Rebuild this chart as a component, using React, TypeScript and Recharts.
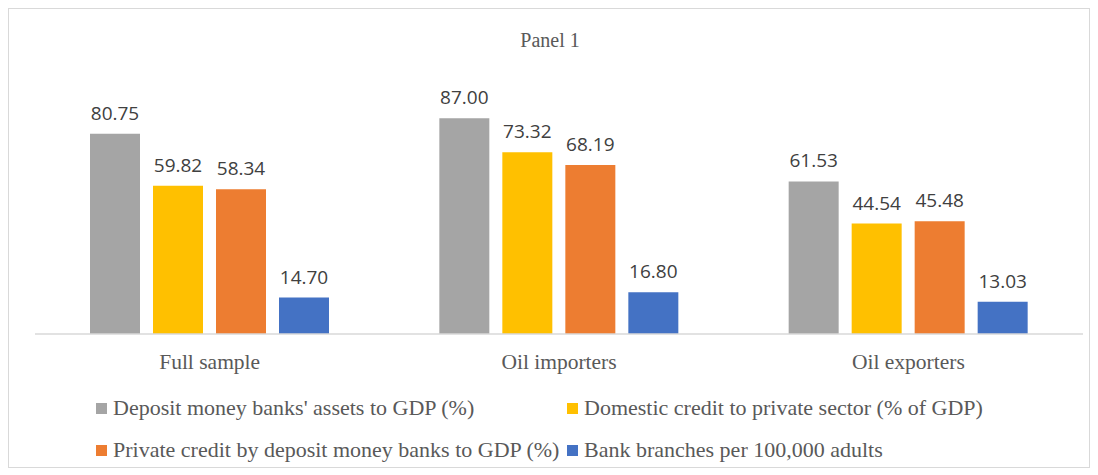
import React from 'react';
import { BarChart, Bar, XAxis, YAxis, LabelList, Legend } from 'recharts';

const categories = ['Full sample', 'Oil importers', 'Oil exporters'];
const depositAssets = [80.75, 87.0, 61.53];
const domesticCredit = [59.82, 73.32, 44.54];
const privateCredit = [58.34, 68.19, 45.48];
const bankBranches = [14.7, 16.8, 13.03];

const seriesNames = [
  "Deposit money banks' assets to GDP (%)",
  'Domestic credit to private sector (% of GDP)',
  'Private credit by deposit money banks to GDP (%)',
  'Bank branches per 100,000 adults',
];
const seriesKeys = ['assets', 'domestic', 'private', 'branches'];
const seriesColors = ['#A5A5A5', '#FFC000', '#ED7D31', '#4472C4'];

const data = categories.map((c, i) => ({
  name: c,
  assets: depositAssets[i],
  domestic: domesticCredit[i],
  private: privateCredit[i],
  branches: bankBranches[i],
}));

const serif = '"Liberation Serif", "Times New Roman", serif';
const sans = '"Open Sans", "Noto Sans", sans-serif';

const LegendContent = () => {
  const item = (idx: number) => (
    <div style={{ display: 'flex', alignItems: 'center', width: 471 }}>
      <span style={{ width: 11, height: 11, background: seriesColors[idx], display: 'inline-block', marginRight: 6 }} />
      <span style={{ fontFamily: serif, fontSize: 22, color: '#595959', whiteSpace: 'nowrap' }}>{seriesNames[idx]}</span>
    </div>
  );
  return (
    <div style={{ paddingLeft: 87 }}>
      <div style={{ display: 'flex', height: 42, alignItems: 'center' }}>
        {item(0)}
        {item(1)}
      </div>
      <div style={{ display: 'flex', height: 42, alignItems: 'center' }}>
        {item(2)}
        {item(3)}
      </div>
    </div>
  );
};

export default function App() {
  return (
    <div style={{ position: 'relative', width: 1080, height: 458, border: '1px solid #D9D9D9', background: '#fff' }}>
      <div style={{ position: 'absolute', top: 20, left: 0, width: 1082, textAlign: 'center', fontFamily: serif, fontSize: 20, color: '#595959' }}>
        Panel 1
      </div>
      <BarChart
        width={1080}
        height={458}
        data={data}
        margin={{ top: 77, right: 6, bottom: 0, left: 26 }}
        barCategoryGap={55}
        barGap={13}
      >
        <XAxis
          dataKey="name"
          axisLine={{ stroke: '#D9D9D9', strokeWidth: 1.5 }}
          tickLine={false}
          tickMargin={14}
          height={133}
          tick={{ fontFamily: serif, fontSize: 21.5, fill: '#595959' }}
          interval={0}
        />
        <YAxis hide domain={[0, 100]} />
        <Legend
          verticalAlign="middle"
          align="center"
          layout="horizontal"
          content={<LegendContent />}
          wrapperStyle={{ top: 378, left: 0, width: 1080 }}
        />
        {seriesKeys.map((k, i) => (
          <Bar key={k} dataKey={k} name={seriesNames[i]} fill={seriesColors[i]} isAnimationActive={false}>
            <LabelList
              dataKey={k}
              position="top"
              offset={14}
              formatter={(v: any) => Number(v).toFixed(2)}
              style={{ fontFamily: sans, fontSize: 19, fill: '#404040' }}
            />
          </Bar>
        ))}
      </BarChart>
    </div>
  );
}
